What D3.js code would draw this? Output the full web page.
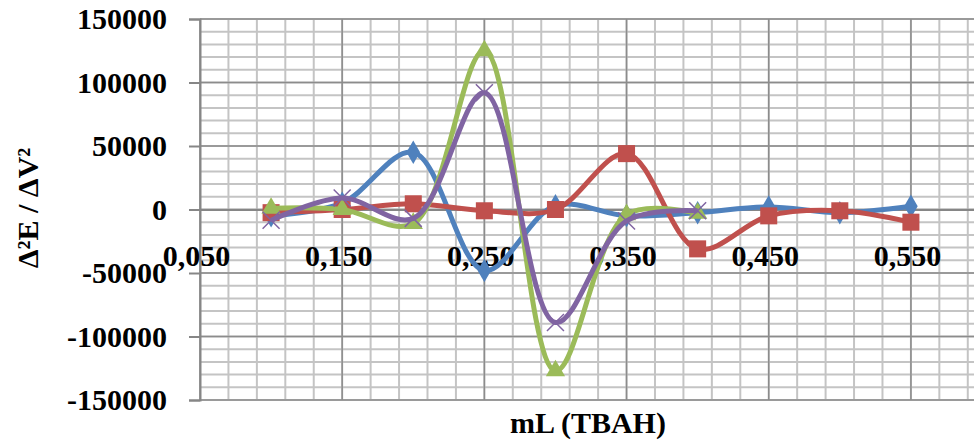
<!DOCTYPE html>
<html>
<head>
<meta charset="utf-8">
<script src="https://cdn.jsdelivr.net/npm/d3@7"></script>
<style>
  body { margin: 0; background: #fff; }
  svg { display: block; }
  text { font-family: "Liberation Serif", "Times New Roman", serif; font-weight: bold; fill: #000; }
</style>
</head>
<body>
<div id="chart"></div>
<script>
// Data
const volumes = [0.10, 0.15, 0.20, 0.25, 0.30, 0.35, 0.40, 0.45, 0.50, 0.55];
const blueValues   = [-5000, 5000, 45000, -48000, 3000, -5000, -2500, 2000, -2500, 2500];
const redValues    = [-2500, 0, 4500, -1000, 0, 44000, -31000, -5000, -1000, -10000];
const greenValues  = [1000, 0, -11000, 125000, -127000, -4000, -3000];
const purpleValues = [-8500, 9000, -7000, 92000, -89000, -9000, -1000];
const xTickValues = [0.05, 0.15, 0.25, 0.35, 0.45, 0.55];
const yTickValues = [-150000, -100000, -50000, 0, 50000, 100000, 150000];

const series = [
  {name: "blue",   values: blueValues,   color: "#4F81BD", marker: "diamond"},
  {name: "red",    values: redValues,    color: "#C0504D", marker: "square"},
  {name: "green",  values: greenValues,  color: "#9BBB59", marker: "triangle"},
  {name: "purple", values: purpleValues, color: "#8064A2", marker: "cross"}
];

// Set up dimensions
const W = 974, H = 443;
const plot = {left: 200, top: 19, right: 982, bottom: 400};

const svg = d3.select("#chart")
    .append("svg")
    .attr("width", W)
    .attr("height", H);

// Scales
const x = d3.scaleLinear()
    .domain([0.05, 0.6])
    .range([plot.left, plot.right]);

const y = d3.scaleLinear()
    .domain([-150000, 150000])
    .range([plot.bottom, plot.top]);

// Gridlines: minor first, then major
const grid = svg.append("g");

grid.selectAll(".hminor")
    .data(d3.range(-150000, 150001, 10000))
    .enter().append("line")
    .attr("x1", plot.left).attr("x2", plot.right)
    .attr("y1", d => y(d)).attr("y2", d => y(d))
    .attr("stroke", "#c4c4c4").attr("stroke-width", 2);

grid.selectAll(".vminor")
    .data(d3.range(0, 28).map(i => 0.05 + i * 0.02))
    .enter().append("line")
    .attr("x1", d => x(d)).attr("x2", d => x(d))
    .attr("y1", plot.top).attr("y2", plot.bottom)
    .attr("stroke", "#c4c4c4").attr("stroke-width", 2);

grid.selectAll(".hmajor")
    .data(yTickValues)
    .enter().append("line")
    .attr("x1", plot.left).attr("x2", plot.right)
    .attr("y1", d => y(d)).attr("y2", d => y(d))
    .attr("stroke", "#8c8c8c").attr("stroke-width", 1.5);

grid.selectAll(".vmajor")
    .data(xTickValues)
    .enter().append("line")
    .attr("x1", d => x(d)).attr("x2", d => x(d))
    .attr("y1", plot.top).attr("y2", plot.bottom)
    .attr("stroke", "#8c8c8c").attr("stroke-width", 1.5);

// Y axis
const yAxis = svg.append("g")
    .attr("transform", `translate(${plot.left},0)`)
    .call(d3.axisLeft(y).tickValues(yTickValues).tickSize(11).tickPadding(22).tickFormat(d => String(d)));
yAxis.select(".domain").attr("stroke", "#868686").attr("stroke-width", 2);
yAxis.selectAll(".tick line").attr("stroke", "#868686").attr("stroke-width", 2);
yAxis.selectAll(".tick text")
    .style("font-family", "'Liberation Serif', serif")
    .style("font-weight", "bold")
    .style("font-size", "30px")
    .attr("dy", "0.33em");

// X axis along zero line, labels sit below it
const xAxis = svg.append("g")
    .attr("transform", `translate(0,${y(0)})`)
    .call(d3.axisBottom(x).tickValues(xTickValues).tickSize(0).tickPadding(35)
        .tickFormat(d => d3.format(".3f")(d).replace(".", ",")));
xAxis.select(".domain").attr("stroke", "#868686").attr("stroke-width", 2);
xAxis.selectAll(".tick text")
    .style("font-family", "'Liberation Serif', serif")
    .style("font-weight", "bold")
    .style("font-size", "30px")
    .attr("dx", "-4");

// Series
const line = d3.line()
    .x(d => x(d.x))
    .y(d => y(d.y))
    .curve(d3.curveCatmullRom.alpha(0.5));

const markerPath = {
  diamond: d3.symbol().type(d3.symbolDiamond).size(160)(),
  square: d3.symbol().type(d3.symbolSquare).size(290)(),
  triangle: d3.symbol().type(d3.symbolTriangle).size(160)(),
  cross: d3.symbol().type(d3.symbolTimes).size(190)()
};

series.forEach(s => {
  const pts = s.values.map((v, i) => ({x: volumes[i], y: v}));
  const g = svg.append("g");
  g.append("path")
      .datum(pts)
      .attr("fill", "none")
      .attr("stroke", s.color)
      .attr("stroke-width", 5)
      .attr("stroke-linejoin", "round")
      .attr("d", line);
  g.selectAll(".m")
      .data(pts)
      .enter().append("path")
      .attr("transform", d => `translate(${x(d.x)},${y(d.y)})`)
      .attr("d", markerPath[s.marker])
      .attr("fill", s.marker === "cross" ? "none" : s.color)
      .attr("stroke", s.color)
      .attr("stroke-width", s.marker === "cross" ? 1.5 : 0);
});

// Axis titles
svg.append("text")
    .attr("x", 588)
    .attr("y", 433)
    .attr("text-anchor", "middle")
    .style("font-size", "30px")
    .text("mL (TBAH)");

svg.append("text")
    .attr("transform", "rotate(-90)")
    .attr("x", -208)
    .attr("y", 38)
    .attr("text-anchor", "middle")
    .style("font-size", "30px")
    .text("Δ²E / ΔV²");
</script>
</body>
</html>
